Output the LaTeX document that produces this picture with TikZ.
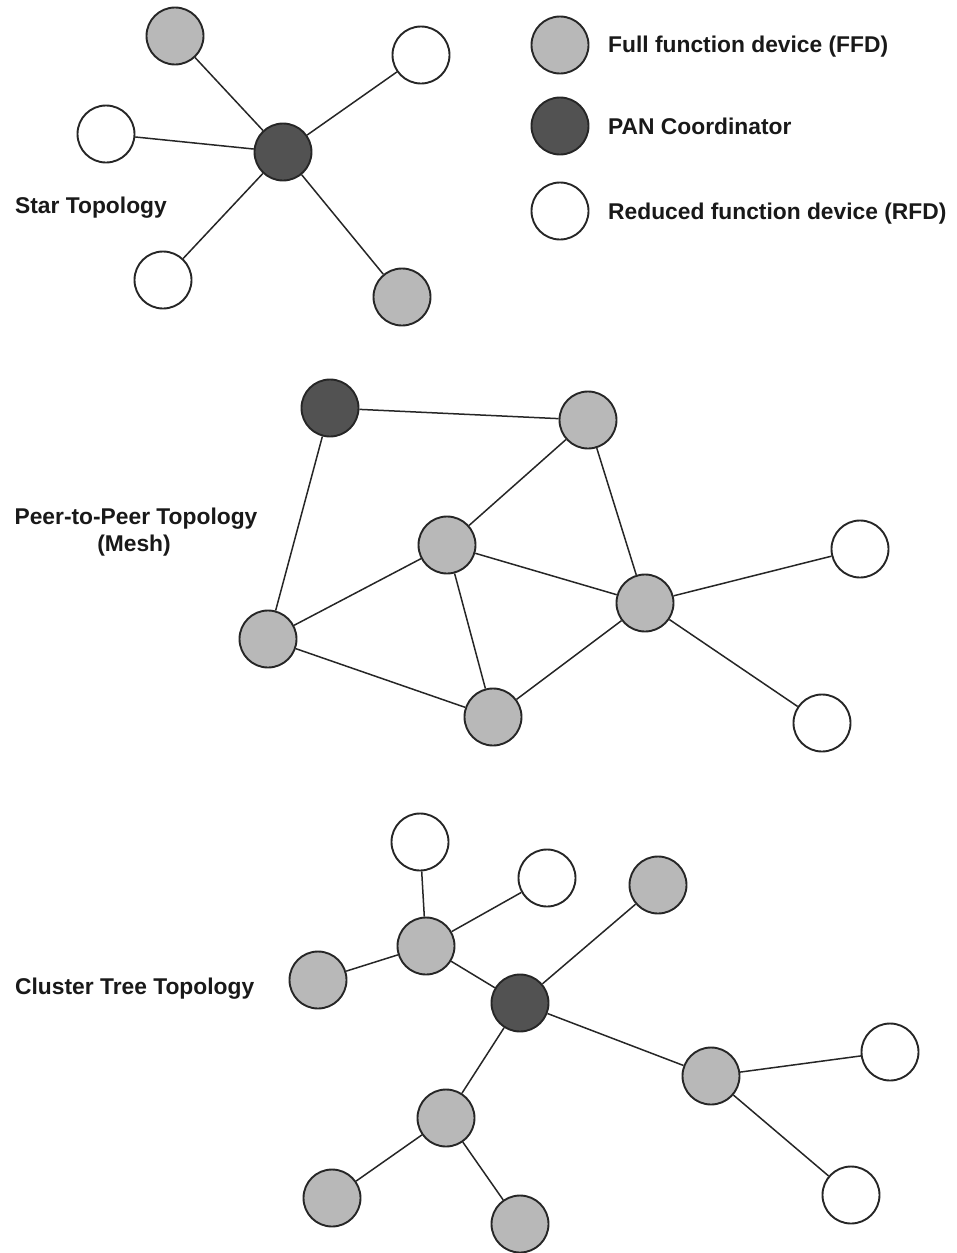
\documentclass[tikz,border=0pt]{standalone}
\usepackage{fontspec}
\setmainfont{Liberation Sans}
\begin{document}
\begin{tikzpicture}[x=1pt,y=-1pt,
  dev/.style={circle,draw=black!85,line width=1.9pt,minimum size=57pt,inner sep=0pt},
  ffd/.style={dev,fill=black!28},
  pan/.style={dev,fill=black!68},
  rfd/.style={dev,fill=white},
  link/.style={draw=black!85,line width=1.5pt},
  lbl/.style={font=\fontsize{22.8}{27}\selectfont\bfseries,inner sep=0pt,text=black!90}]
\useasboundingbox (0,0) rectangle (956,1253);

% ---- Star topology ----
\node[ffd] (s1) at (175,36) {};
\node[rfd] (s2) at (421,55) {};
\node[rfd] (s3) at (106,134) {};
\node[pan] (sc) at (283,152) {};
\node[rfd] (s4) at (163,280) {};
\node[ffd] (s5) at (402,297) {};
\foreach \n in {s1,s2,s3,s4,s5} \draw[link] (sc) -- (\n);
\node[lbl,anchor=base west] (tstar) at (15,213) {Star Topology};

% ---- Legend ----
\node[ffd] (k1) at (560,45) {};
\node[pan] (k2) at (560,126) {};
\node[rfd] (k3) at (560,211) {};
\node[lbl,anchor=base west] (t1) at (608,52) {Full function device (FFD)};
\node[lbl,anchor=base west] (t2) at (608,134) {PAN Coordinator};
\node[lbl,anchor=base west] (t3) at (608,219) {Reduced function device (RFD)};

% ---- Peer-to-peer (mesh) topology ----
\node[pan] (mp) at (330,408) {};
\node[ffd] (ma) at (588,420) {};
\node[ffd] (mb) at (447,545) {};
\node[ffd] (mc) at (645,603) {};
\node[rfd] (md) at (860,549) {};
\node[ffd] (me) at (268,639) {};
\node[ffd] (mf) at (493,717) {};
\node[rfd] (mg) at (822,723) {};
\foreach \a/\b in {mp/ma,mp/me,ma/mb,ma/mc,mb/me,mb/mc,mb/mf,me/mf,mf/mc,mc/md,mc/mg}
  \draw[link] (\a) -- (\b);
\node[lbl,anchor=base] (tmesh) at (136,524) {Peer-to-Peer Topology};
\node[lbl,anchor=base] (tmesh2) at (134,551) {(Mesh)};

% ---- Cluster tree topology ----
\node[rfd] (c1) at (420,842) {};
\node[rfd] (c2) at (547,878) {};
\node[ffd] (c3) at (658,885) {};
\node[ffd] (ch1) at (426,946) {};
\node[ffd] (c4) at (318,980) {};
\node[pan] (cp) at (520,1003) {};
\node[rfd] (c5) at (890,1052) {};
\node[ffd] (ch3) at (711,1076) {};
\node[ffd] (ch2) at (446,1118) {};
\node[rfd] (c6) at (851,1195) {};
\node[ffd] (c7) at (332,1198) {};
\node[ffd] (c8) at (520,1224) {};
\foreach \a/\b in {c1/ch1,c2/ch1,ch1/c4,ch1/cp,cp/c3,cp/ch3,ch3/c5,ch3/c6,cp/ch2,ch2/c7,ch2/c8}
  \draw[link] (\a) -- (\b);
\node[lbl,anchor=base west] (tclus) at (15,994) {Cluster Tree Topology};
\end{tikzpicture}
\end{document}
